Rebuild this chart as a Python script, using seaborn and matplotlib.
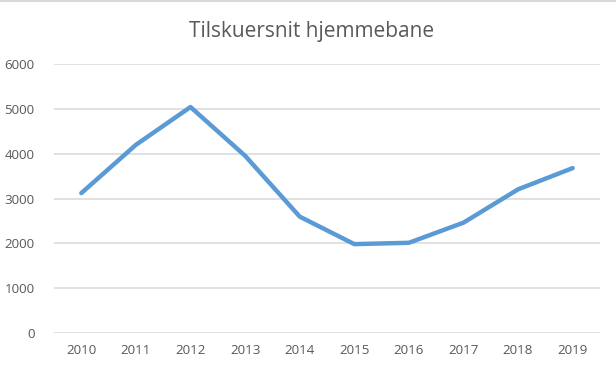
import matplotlib
matplotlib.use("Agg")
import matplotlib.pyplot as plt
from matplotlib.lines import Line2D
import seaborn as sns
import pandas as pd

years = ["2010", "2011", "2012", "2013", "2014", "2015", "2016", "2017", "2018", "2019"]
values = [3120, 4200, 5045, 3955, 2595, 1980, 2010, 2460, 3205, 3680]
yticks = [0, 1000, 2000, 3000, 4000, 5000, 6000]
title = "Tilskuersnit hjemmebane"

sns.set_theme(style="white")
plt.rcParams["font.family"] = ["Open Sans", "DejaVu Sans"]

df = pd.DataFrame({"year": years, "value": values})

fig = plt.figure(figsize=(6.16, 3.71), dpi=100)
ax = fig.add_axes([54/616, 1-332.7/371, (600-54)/616, (332.7-64.3)/371])

sns.lineplot(data=df, x="year", y="value", ax=ax, color="#5B9BD5", linewidth=3.2,
             solid_capstyle="round", solid_joinstyle="round", sort=False)

ax.set_xlim(-0.5, len(years) - 0.5)
ax.set_ylim(0, 6000)
ax.set_yticks(yticks)
ax.set_yticklabels([str(t) for t in yticks])
ax.yaxis.grid(True, color="#D9D9D9", linewidth=1.1)
ax.set_axisbelow(True)
for s in ax.spines.values():
    s.set_visible(False)
ax.set_xlabel("")
ax.set_ylabel("")
ax.tick_params(axis="both", length=0, labelsize=9.6, colors="#595959")
ax.tick_params(axis="y", pad=14)
ax.tick_params(axis="x", pad=8)

fig.text(312/616, 1-31/371, title, ha="center", va="center", fontsize=15, color="#595959")
fig.add_artist(Line2D([0, 1], [0.997, 0.997], transform=fig.transFigure, color="#D9D9D9", linewidth=1.5))

fig.savefig("out.png", dpi=100, facecolor="white")
